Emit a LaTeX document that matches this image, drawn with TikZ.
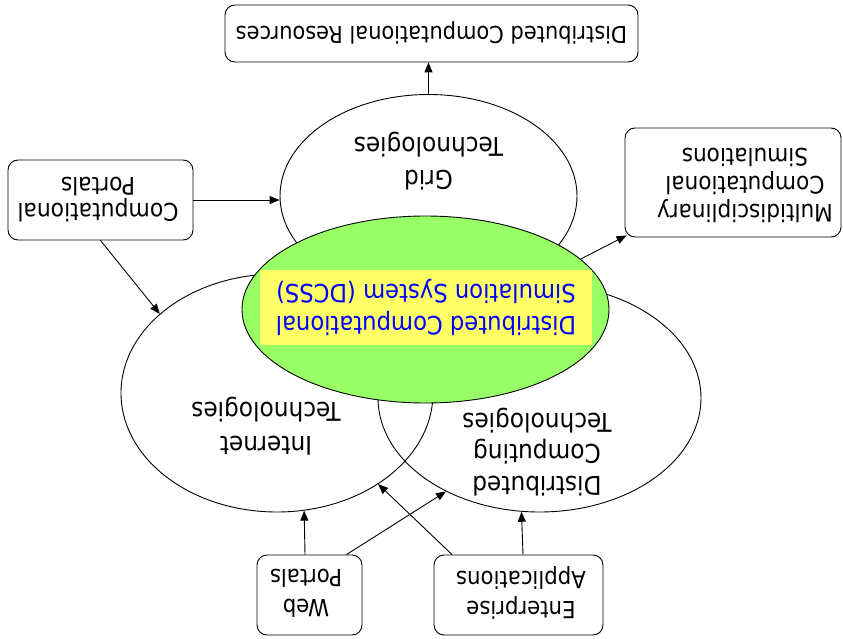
\documentclass[tikz,border=0pt]{standalone}
\usepackage{fontspec}
\setmainfont[FakeStretch=0.9]{DejaVu Sans}
\usetikzlibrary{shapes.geometric,arrows.meta}
\definecolor{blobgreen}{RGB}{153,255,102}
\definecolor{hiyellow}{RGB}{255,255,102}
\definecolor{textblue}{RGB}{0,0,255}

\begin{document}
\begin{tikzpicture}[x=1pt,y=-1pt,
  line width=0.9pt,
  box/.style={draw,rounded corners=10pt,inner sep=0pt,fill=white},
  blob/.style={draw,ellipse,inner sep=0pt},
  caption/.style={rotate=180,align=center,inner sep=0pt},
  link/.style={-{Triangle[length=10pt,width=8pt]}},
]
\useasboundingbox (0,0) rectangle (843,639);

% technology areas
\node[blob,minimum width=297pt,minimum height=203pt] (grid) at (428.5,196) {};
\node[blob,minimum width=312pt,minimum height=238pt] (internet) at (277,393) {};
\node[blob,minimum width=323pt,minimum height=228pt] (dcomp) at (539.5,398) {};

% the simulation system in the middle
\node[blob,fill=blobgreen,minimum width=367pt,minimum height=187pt] (dcss) at (425.5,309.5) {};
\node[caption,fill=hiyellow,minimum width=332pt,minimum height=75pt,
      text=textblue,font=\fontsize{25.2}{32}\selectfont] (dcsstext) at (426,307.5)
  {Distributed Computational\\Simulation System (DCSS)};

% boxes
\node[box,minimum width=413pt,minimum height=57pt] (res) at (431.5,33.5) {};
\node[box,minimum width=185pt,minimum height=80pt] (cportals) at (100.5,200) {};
\node[box,minimum width=216pt,minimum height=109pt] (multi) at (733,182.5) {};
\node[box,minimum width=105pt,minimum height=80pt] (web) at (309.5,595) {};
\node[box,minimum width=169pt,minimum height=80pt] (ent) at (518.5,595) {};

% connectors
\draw[link] (grid.north) -- (grid.north |- res.south);
\draw[link] (cportals.east) -- (cportals.east -| grid.west);
\draw[link] (cportals.south) -- (internet.146.8);
\draw[link] (dcss.18.8) -- ([xshift=2pt,yshift=2pt]multi.south west);
\draw[link] ([xshift=-4.5pt]web.north) -- (internet.283.5);
\draw[link] ([xshift=37pt]web.north) -- (dcomp.225.8);
\draw[link] ([xshift=-66.5pt]ent.north) -- (internet.318.3);
\draw[link] ([xshift=4.5pt]ent.north) -- (dcomp.261.7);

% labels
\node[caption,font=\fontsize{23.3}{26}\selectfont] (restext) at (431.5,33)
  {Distributed Computational Resources};
\node[caption,font=\fontsize{24.3}{26}\selectfont] (cportalstext) at (98,200)
  {Computational\\Portals};
\node[caption,font=\fontsize{24}{28}\selectfont] (multitext) at (745,185)
  {Multidisciplinary\\Computational\\Simulations};
\node[caption,font=\fontsize{25.8}{33}\selectfont] (gridtext) at (428.5,161.5)
  {Grid\\Technologies};
\node[caption,font=\fontsize{25.8}{34}\selectfont] (internettext) at (266,426)
  {Internet\\Technologies};
\node[caption,font=\fontsize{25.8}{31.5}\selectfont] (dcomptext) at (537,452)
  {Distributed\\Computing\\Technologies};
\node[caption,font=\fontsize{23.6}{30}\selectfont] (webtext) at (306,593)
  {Web\\Portals};
\node[caption,font=\fontsize{23.6}{30}\selectfont] (enttext) at (521,593)
  {Enterprise\\Applications};
\end{tikzpicture}
\end{document}
